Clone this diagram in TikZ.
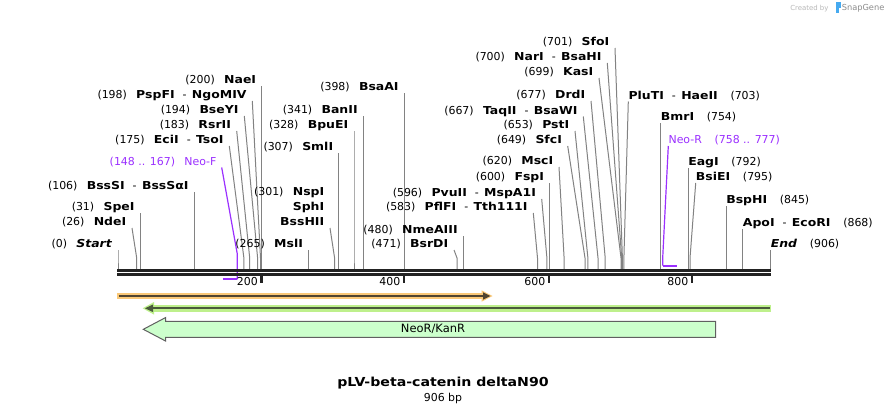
\documentclass[tikz,border=0pt]{standalone}
\usepackage{fontspec}
\setmainfont{DejaVu Sans}[BoldFeatures={FakeStretch=1.14},BoldItalicFeatures={FakeStretch=1.14}]
\usetikzlibrary{calc}
\definecolor{sitegray}{RGB}{130,130,130}
\definecolor{neo}{RGB}{155,48,255}
\definecolor{bbcol}{RGB}{34,34,34}
\definecolor{orhalo}{RGB}{250,200,120}
\definecolor{ordark}{RGB}{80,68,48}
\definecolor{grhalo}{RGB}{190,240,140}
\definecolor{grdark}{RGB}{74,90,60}
\definecolor{featfill}{RGB}{204,255,204}
\definecolor{featdraw}{RGB}{96,96,96}
\definecolor{sgblue}{RGB}{70,170,240}
\newcommand\gp{\hspace{7pt}}
\newcommand\gq{\hspace{9.5pt}}
\newcommand\dsh{\hspace{6pt}-\hspace{4pt}}
\newcommand\siteL[5]{%
  \coordinate (#1t) at (#2,#3);
  \coordinate (#1k) at (#4,258);
  \coordinate (#1b) at (#4,268.8);
  \draw[siteline] (#1t) -- (#1k) -- (#1b);
  \node[lbl,anchor=mid east] (#1) at ($(#1t)+(-5.5,-6)$) {#5};
}
\newcommand\siteR[5]{%
  \coordinate (#1t) at (#2,#3);
  \coordinate (#1k) at (#4,258);
  \coordinate (#1b) at (#4,268.8);
  \draw[siteline] (#1t) -- (#1k) -- (#1b);
  \node[lbl,anchor=mid west] (#1) at ($(#1t)+(0,-6)$) {#5};
}
\begin{document}
\begin{tikzpicture}[x=0.75pt,y=-0.75pt,
  lbl/.style={inner sep=0pt, font=\fontsize{8.2}{10}\selectfont},
  siteline/.style={draw=sitegray, line width=0.75pt},
  neoline/.style={draw=neo, line width=0.9pt},
  neobar/.style={draw=neo, line width=1.6pt},
  backbone/.style={draw=bbcol, line width=2pt},
  tickmark/.style={draw=bbcol, line width=1.6pt},
]
\useasboundingbox (0,0) rectangle (888,414);
\fill[white] (0,0) rectangle (888,414);

% logo
\node[inner sep=0pt, anchor=mid west, font=\fontsize{5.2}{6}\selectfont, text=black!28] (cby) at (790,7) {Created by};
\fill[sgblue] (835.5,2) rectangle (838.5,12.5);
\fill[sgblue] (838.5,2) rectangle (840.5,8) ;
\node[inner sep=0pt, anchor=mid west, font=\fontsize{6.2}{7}\selectfont, text=black!45] (sg) at (841.5,7) {SnapGene};

% left-side sites
\siteL{Start}{118}{250}{118}{(0)\gp\textbf{\textit{Start}}}
\siteL{NdeI}{132}{228}{136.7}{(26)\gp\textbf{NdeI}}
\siteL{SpeI}{140.3}{213}{140.3}{(31)\gp\textbf{SpeI}}
\siteL{BssSI}{194.3}{192}{194.3}{(106)\gp\textbf{BssSI}\dsh\textbf{BssSαI}}
\siteL{EciI}{229.3}{146}{243.9}{(175)\gp\textbf{EciI}\dsh\textbf{TsoI}}
\siteL{RsrII}{236.7}{131}{249.7}{(183)\gp\textbf{RsrII}}
\siteL{BseYI}{244.3}{116}{257.6}{(194)\gp\textbf{BseYI}}
\siteL{PspFI}{252.3}{101}{260.5}{(198)\gp\textbf{PspFI}\dsh\textbf{NgoMIV}}
\siteL{NaeI}{261.9}{86}{261.9}{(200)\gp\textbf{NaeI}}
\siteL{MslI}{308.7}{250}{308.7}{(265)\gp\textbf{MslI}}
\siteL{BssHII}{330}{228}{334.6}{\textbf{BssHII}}
\node[lbl,anchor=mid east] (SphI) at ($(BssHII.mid east)+(0,-15.5)$) {\textbf{SphI}};
\node[lbl,anchor=mid east] (NspI) at ($(SphI.mid east)+(0,-14.5)$) {(301)\gp\textbf{NspI}};
\siteL{SmlI}{338.9}{153}{338.9}{(307)\gp\textbf{SmlI}}
\siteL{BpuEI}{354}{131}{354}{(328)\gp\textbf{BpuEI}}
\siteL{BanII}{363.4}{116}{363.4}{(341)\gp\textbf{BanII}}
\siteL{BsaAI}{404.4}{93}{404.4}{(398)\gp\textbf{BsaAI}}
\siteL{BsrDI}{454}{250}{457}{(471)\gp\textbf{BsrDI}}
\siteL{NmeAIII}{463.4}{236}{463.4}{(480)\gp\textbf{NmeAIII}}
\siteL{PflFI}{533.3}{213}{537.5}{(583)\gp\textbf{PflFI}\dsh\textbf{Tth111I}}
\siteL{PvuII}{541.7}{199}{546.9}{(596)\gp\textbf{PvuII}\dsh\textbf{MspA1I}}
\siteL{FspI}{549.8}{183}{549.8}{(600)\gp\textbf{FspI}}
\siteL{MscI}{559}{167}{564.1}{(620)\gp\textbf{MscI}}
\siteL{SfcI}{567.7}{146}{585}{(649)\gp\textbf{SfcI}}
\siteL{PstI}{575}{131}{587.9}{(653)\gp\textbf{PstI}}
\siteL{TaqII}{583.3}{116.5}{598}{(667)\gp\textbf{TaqII}\dsh\textbf{BsaWI}}
\siteL{DrdI}{591}{101}{605.2}{(677)\gp\textbf{DrdI}}
\siteL{KasI}{599}{78}{621}{(699)\gp\textbf{KasI}}
\siteL{NarI}{607.3}{63}{621.7}{(700)\gp\textbf{NarI}\dsh\textbf{BsaHI}}
\siteL{SfoI}{615}{48}{622.4}{(701)\gp\textbf{SfoI}}

% right-side sites
\siteR{PluTI}{628.3}{101.5}{623.9}{\textbf{PluTI}\dsh\textbf{HaeII}\gq(703)}
\siteR{BmrI}{660.6}{123}{660.6}{\textbf{BmrI}\gq(754)}
\siteR{EagI}{688}{168}{688}{\textbf{EagI}\gq(792)}
\siteR{BsiEI}{695.7}{183}{690}{\textbf{BsiEI}\gq(795)}
\siteR{BspHI}{726}{206}{726}{\textbf{BspHI}\gq(845)}
\siteR{ApoI}{742.6}{229}{742.6}{\textbf{ApoI}\dsh\textbf{EcoRI}\gq(868)}
\siteR{End}{770.5}{250}{770.5}{\textbf{\textit{End}}\gq(906)}

% primers
\coordinate (nfT) at (221.7,167.5);
\coordinate (nfK) at (237.3,254);
\coordinate (nfB) at (237.3,279.3);
\coordinate (nfE) at (223.3,279.3);
\draw[neoline] (nfT) -- (nfK) -- (nfB);
\draw[neobar] (nfB) -- (nfE);
\node[lbl,anchor=mid east,text=neo] (NeoF) at ($(nfT)+(-5,-6)$) {(148 .. 167)\gp Neo-F};

\coordinate (nrT) at (668.3,146);
\coordinate (nrK) at (662.7,258);
\coordinate (nrB) at (662.7,265.6);
\coordinate (nrE) at (677,265.6);
\draw[neoline] (nrT) -- (nrK) -- (nrB);
\draw[neobar] (nrB) -- (nrE);
\node[lbl,anchor=mid west,text=neo] (NeoR) at ($(nrT)+(0,-6)$) {Neo-R\gq(758 .. 777)};

% backbone
\coordinate (bbS) at (117.3,270.3);
\coordinate (bbE) at (770.7,270.3);
\coordinate (bbS2) at (117.3,274.4);
\coordinate (bbE2) at (770.7,274.4);
\draw[backbone] (bbS) -- (bbE);
\draw[backbone] (bbS2) -- (bbE2);

% ticks
\foreach \tx/\tl in {261.5/200, 404/400, 549/600, 692/800}{
  \draw[tickmark] (\tx,275.5) -- (\tx,282.5);
  \node[lbl,anchor=mid east] (tk\tl) at (\tx-3.5,281.5) {\tl};
}

% orange arrow (forward)
\coordinate (oS) at (117,296);
\coordinate (oE) at (483.5,296);
\fill[orhalo] (116.7,293.3) rectangle (484,298.7);
\fill[orhalo] (481.5,290.3) -- (492.5,296) -- (481.5,301.7) -- cycle;
\draw[draw=ordark, line width=1.5pt] (118.5,296) -- (484,296);
\fill[ordark] (483,292.3) -- (490.3,296) -- (483,299.7) -- cycle;

% green arrow (reverse)
\fill[grhalo] (152,305) rectangle (771,311.7);
\fill[grhalo] (154,302) -- (142.7,308.3) -- (154,314.6) -- cycle;
\draw[draw=grdark, line width=1.5pt] (152,308.3) -- (769.5,308.3);
\fill[grdark] (153,304.5) -- (145,308.3) -- (153,312.1) -- cycle;

% NeoR/KanR feature
\draw[fill=featfill, draw=featdraw, line width=0.75pt]
  (143.3,329.3) -- (165.7,317.5) -- (165.7,321.3) -- (715.7,321.3) -- (715.7,337.3)
  -- (165.7,337.3) -- (165.7,341.1) -- cycle;
\node[lbl,font=\fontsize{8.6}{10}\selectfont] (feat) at (433,329.3) {NeoR/KanR};

% title
\node[inner sep=0pt,font=\fontsize{9.3}{12}\bfseries\selectfont] (title) at (443,383) {pLV-beta-catenin deltaN90};
\node[lbl] (len) at (443,398) {906 bp};
\end{tikzpicture}
\end{document}
